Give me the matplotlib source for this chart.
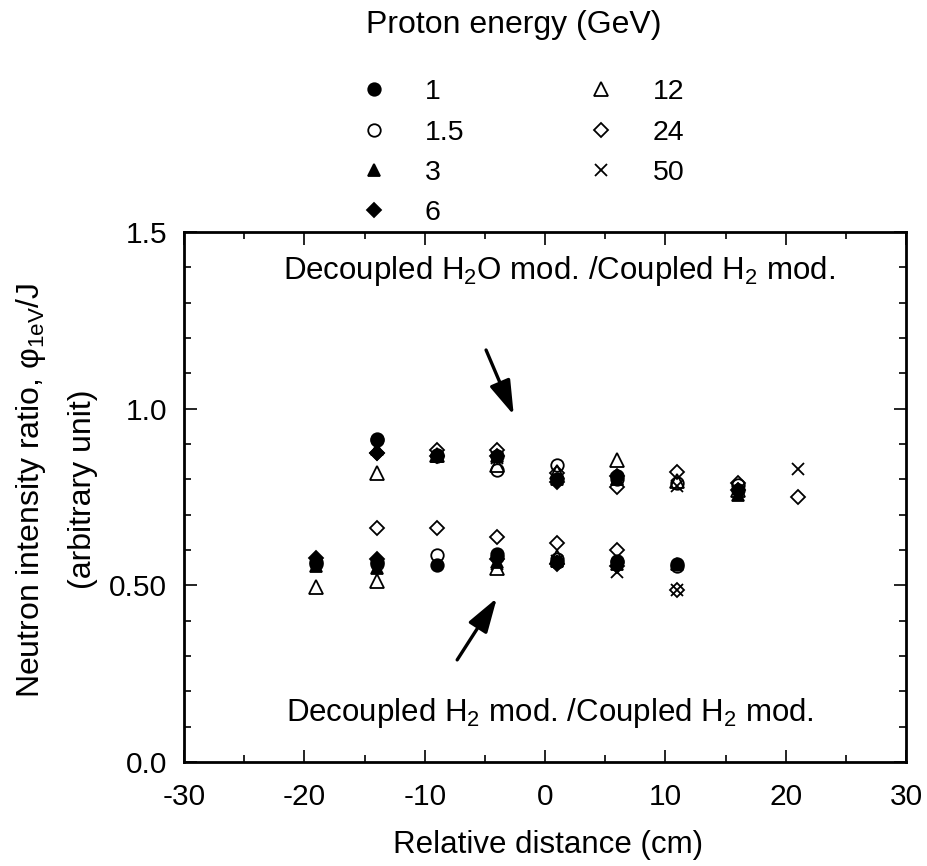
import numpy as np
import matplotlib
matplotlib.use("Agg")
import matplotlib.pyplot as plt
from matplotlib.lines import Line2D
from matplotlib.ticker import FixedLocator, MultipleLocator

plt.rcParams['font.family'] = ['Liberation Sans', 'DejaVu Sans']
plt.rcParams['mathtext.fontset'] = 'custom'
plt.rcParams['mathtext.rm'] = 'Liberation Sans'
plt.rcParams['mathtext.it'] = 'Liberation Sans:italic'
plt.rcParams['mathtext.bf'] = 'Liberation Sans:bold'
plt.rcParams['axes.unicode_minus'] = False

nan = np.nan

# relative distance positions (cm)
x_upper = [-14, -9, -4, 1, 6, 11, 16, 21]
x_lower = [-19, -14, -9, -4, 1, 6, 11]

energies = ['1', '1.5', '3', '6', '12', '24', '50']

# Decoupled H2O mod. / Coupled H2 mod.
up_1 = [0.915, 0.865, 0.865, 0.80, 0.81, nan, 0.77, nan]
up_1p5 = [0.91, 0.87, 0.827, 0.84, 0.80, 0.79, 0.785, nan]
up_3 = [0.885, 0.865, 0.865, 0.80, 0.80, nan, 0.757, nan]
up_6 = [0.875, 0.865, 0.865, 0.793, 0.81, nan, 0.77, nan]
up_12 = [0.818, 0.868, 0.84, 0.82, 0.855, 0.795, 0.77, nan]
up_24 = [0.875, 0.883, 0.883, 0.818, 0.778, 0.82, 0.79, 0.75]
up_50 = [nan, nan, 0.86, nan, 0.80, 0.78, nan, 0.829]

# Decoupled H2 mod. / Coupled H2 mod.
lo_1 = [0.565, 0.565, 0.558, 0.59, 0.565, 0.565, 0.56]
lo_1p5 = [0.56, 0.56, 0.586, 0.58, 0.575, 0.57, 0.555]
lo_3 = [0.555, 0.55, nan, 0.565, 0.57, 0.56, 0.56]
lo_6 = [0.577, 0.575, nan, 0.575, 0.56, 0.555, nan]
lo_12 = [0.495, 0.512, nan, 0.548, 0.58, nan, nan]
lo_24 = [nan, 0.662, 0.662, 0.637, 0.62, 0.60, 0.488]
lo_50 = [nan, nan, nan, 0.56, 0.57, 0.538, 0.488]

upper = [up_1, up_1p5, up_3, up_6, up_12, up_24, up_50]
lower = [lo_1, lo_1p5, lo_3, lo_6, lo_12, lo_24, lo_50]

# marker styles per energy
styles = [
    dict(marker='o', ms=9, mfc='black', mec='black'),
    dict(marker='o', ms=9, mfc='none', mec='black'),
    dict(marker='^', ms=9, mfc='black', mec='black'),
    dict(marker='D', ms=7, mfc='black', mec='black'),
    dict(marker='^', ms=10, mfc='none', mec='black'),
    dict(marker='D', ms=7.5, mfc='none', mec='black'),
    dict(marker='x', ms=9, mfc='none', mec='black'),
]

fig = plt.figure(figsize=(9.27, 8.66), dpi=100)
ax = fig.add_axes([0.1985, 0.1201, 0.7789, 0.6120])

for st, yu, yl in zip(styles, upper, lower):
    ax.plot(x_upper, yu, ls='none', mew=1.3, **st)
    ax.plot(x_lower, yl, ls='none', mew=1.3, **st)

ax.set_xlim(-30, 30)
ax.set_ylim(0, 1.5)
ax.xaxis.set_major_locator(MultipleLocator(10))
ax.xaxis.set_minor_locator(MultipleLocator(5))
ax.yaxis.set_major_locator(FixedLocator([0.0, 0.5, 1.0, 1.5]))
ax.set_yticklabels(['0.0', '0.50', '1.0', '1.5'])
ax.yaxis.set_minor_locator(MultipleLocator(0.1))
ax.tick_params(which='both', direction='in', top=True, right=True, labelsize=21.5)
ax.tick_params(which='major', length=9, width=1.2)
ax.tick_params(which='minor', length=5, width=1.2)
ax.tick_params(axis='x', pad=15)
ax.tick_params(axis='y', pad=12)
for s in ax.spines.values():
    s.set_linewidth(2.0)

# annotations
ax.text(1.2, 1.39, r'Decoupled H$_{\mathrm{2}}$O mod. /Coupled H$_{\mathrm{2}}$ mod.',
        ha='center', va='center', fontsize=22.5)
ax.text(0.4, 0.14, r'Decoupled H$_{\mathrm{2}}$ mod. /Coupled H$_{\mathrm{2}}$ mod.',
        ha='center', va='center', fontsize=22.5)
arrow = dict(arrowstyle='-|>,head_length=0.7,head_width=0.22', lw=2.4,
             color='black', mutation_scale=30, shrinkA=0, shrinkB=0)
ax.annotate('', xy=(-2.6, 0.982), xytext=(-4.9, 1.166), arrowprops=arrow)
ax.annotate('', xy=(-4.0, 0.464), xytext=(-7.3, 0.289), arrowprops=arrow)

# axis labels
fig.text(548 / 927, 1 - 845 / 866, 'Relative distance (cm)', ha='center',
         va='center', fontsize=22.5)
fig.text(31 / 927, 1 - 490 / 866, 'Neutron intensity ratio, \u03c6$_{\\mathrm{1eV}}$/J',
         rotation=90, ha='center', va='center', fontsize=23)
fig.text(83 / 927, 1 - 489 / 866, '(arbitrary unit)', rotation=90,
         ha='center', va='center', fontsize=23)

# legend
fig.text(514 / 927, 1 - 25 / 866, 'Proton energy (GeV)', ha='center',
         va='center', fontsize=23)
handles = [Line2D([], [], ls='none', mew=1.3, **st) for st in styles]
leg = fig.legend(handles, energies, ncol=2, frameon=False, fontsize=20.5,
                 handlelength=1.0, handletextpad=1.3, columnspacing=4.3,
                 labelspacing=0.5, loc='upper left', borderaxespad=0,
                 bbox_to_anchor=(348 / 927, 1 - 68 / 866))

fig.savefig('out.png', dpi=100)
